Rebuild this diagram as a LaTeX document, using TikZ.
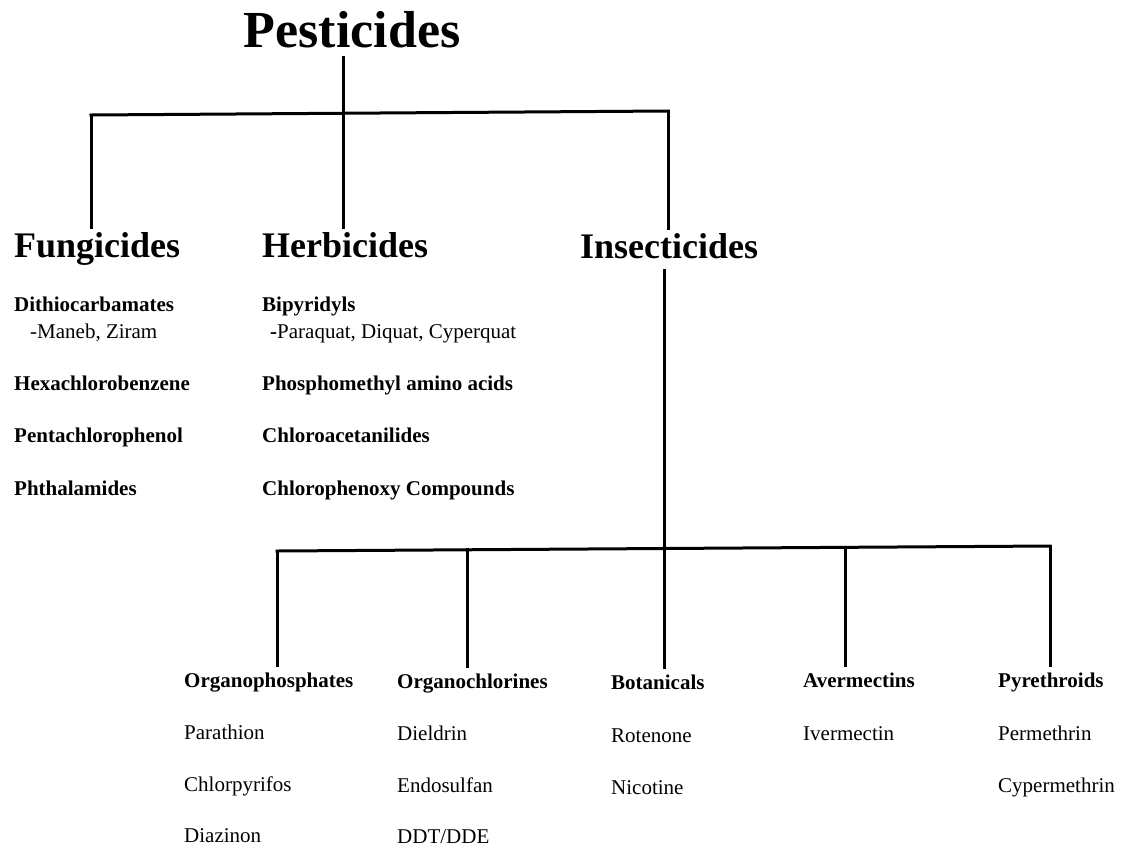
\documentclass[tikz,border=0pt]{standalone}
\usepackage{fontspec}
\setmainfont{Liberation Serif}
\usetikzlibrary{positioning}

\begin{document}
\begin{tikzpicture}[
            x=1pt, y=-1pt,
            root/.style={font=\fontsize{52}{60}\selectfont\bfseries, inner sep=0pt, anchor=base},
            group/.style={font=\fontsize{36}{42}\selectfont\bfseries, inner sep=0pt, anchor=base west},
            cls/.style={font=\fontsize{21}{25}\selectfont\bfseries, inner sep=0pt, anchor=base west},
            item/.style={font=\fontsize{21}{25}\selectfont, inner sep=0pt, anchor=base west},
            link/.style={line width=3pt, line cap=rect}
        ]
            \useasboundingbox (0,0) rectangle (1129,847);
            % top level
            \node[root] (pest) at (352,47) {Pesticides};
            \node[group] (fung) at (14,257) {Fungicides};
            \node[group] (herb) at (262,257) {Herbicides};
            \node[group] (insect) at (580,258) {Insecticides};
            % fungicides
            \node[cls] (dithio) at (14,311) {Dithiocarbamates};
            \node[item] (maneb) at (30,338) {-Maneb, Ziram};
            \node[cls] (hexa) at (14,390) {Hexachlorobenzene};
            \node[cls] (penta) at (14,442) {Pentachlorophenol};
            \node[cls] (phthal) at (14,495) {Phthalamides};
            % herbicides
            \node[cls] (bipyr) at (262,311) {Bipyridyls};
            \node[item] (paraq) at (270,338) {\textbf{-}Paraquat, Diquat, Cyperquat};
            \node[cls] (phosm) at (262,390) {Phosphomethyl amino acids};
            \node[cls] (chlac) at (262,442) {Chloroacetanilides};
            \node[cls] (chlph) at (262,495) {Chlorophenoxy Compounds};
            % insecticides
            \node[cls] (ophos) at (184,687) {Organophosphates};
            \node[cls] (ochlor) at (397,688) {Organochlorines};
            \node[cls] (botan) at (611,689) {Botanicals};
            \node[cls] (averm) at (803,687) {Avermectins};
            \node[cls] (pyre) at (998,687) {Pyrethroids};
            \foreach \txt [count=\i] in {Parathion, Chlorpyrifos, Diazinon}
                \node[item] (ophos\i) at (184,688+51.5*\i) {\txt};
            \foreach \txt [count=\i] in {Dieldrin, Endosulfan, DDT/DDE}
                \node[item] (ochlor\i) at (397,689+51.5*\i) {\txt};
            \foreach \txt [count=\i] in {Rotenone, Nicotine}
                \node[item] (botan\i) at (611,690+52*\i) {\txt};
            \node[item] (averm1) at (803,740) {Ivermectin};
            \foreach \txt [count=\i] in {Permethrin, Cypermethrin}
                \node[item] (pyre\i) at (998,688+52*\i) {\txt};
            % connectors
            \coordinate (tbL) at (91,115);
            \coordinate (tbM) at (343,113);
            \coordinate (tbR) at (668,111);
            \coordinate (pestbot) at ([yshift=-10pt]pest.south);
            \coordinate (fungtop) at ([yshift=4.5pt]fung.north);
            \coordinate (herbtop) at ([yshift=4.5pt]herb.north);
            \coordinate (instop) at ([yshift=4.5pt]insect.north);
            \coordinate (insbot) at ([yshift=-12pt]insect.south);
            \draw[link] (tbL) -- (tbR);
            \draw[link] (tbM |- pestbot) -- (tbM |- herbtop);
            \draw[link] (tbL) -- (tbL |- fungtop);
            \draw[link] (tbR) -- (tbR |- instop);
            \coordinate (b1) at (277,551);
            \coordinate (b2) at (467,549.8);
            \coordinate (b3) at (664,548.5);
            \coordinate (b4) at (845,547.3);
            \coordinate (b5) at (1050,546);
            \draw[link] (b1) -- (b5);
            \draw[link] (b3 |- insbot) -- (b3);
            \foreach \j/\c in {b1/ophos, b2/ochlor, b3/botan, b4/averm, b5/pyre} {
                \coordinate (\c top) at ([yshift=7pt]\c.north);
                \draw[link] (\j) -- (\j |- \c top);
            }
        \end{tikzpicture}
\end{document}
